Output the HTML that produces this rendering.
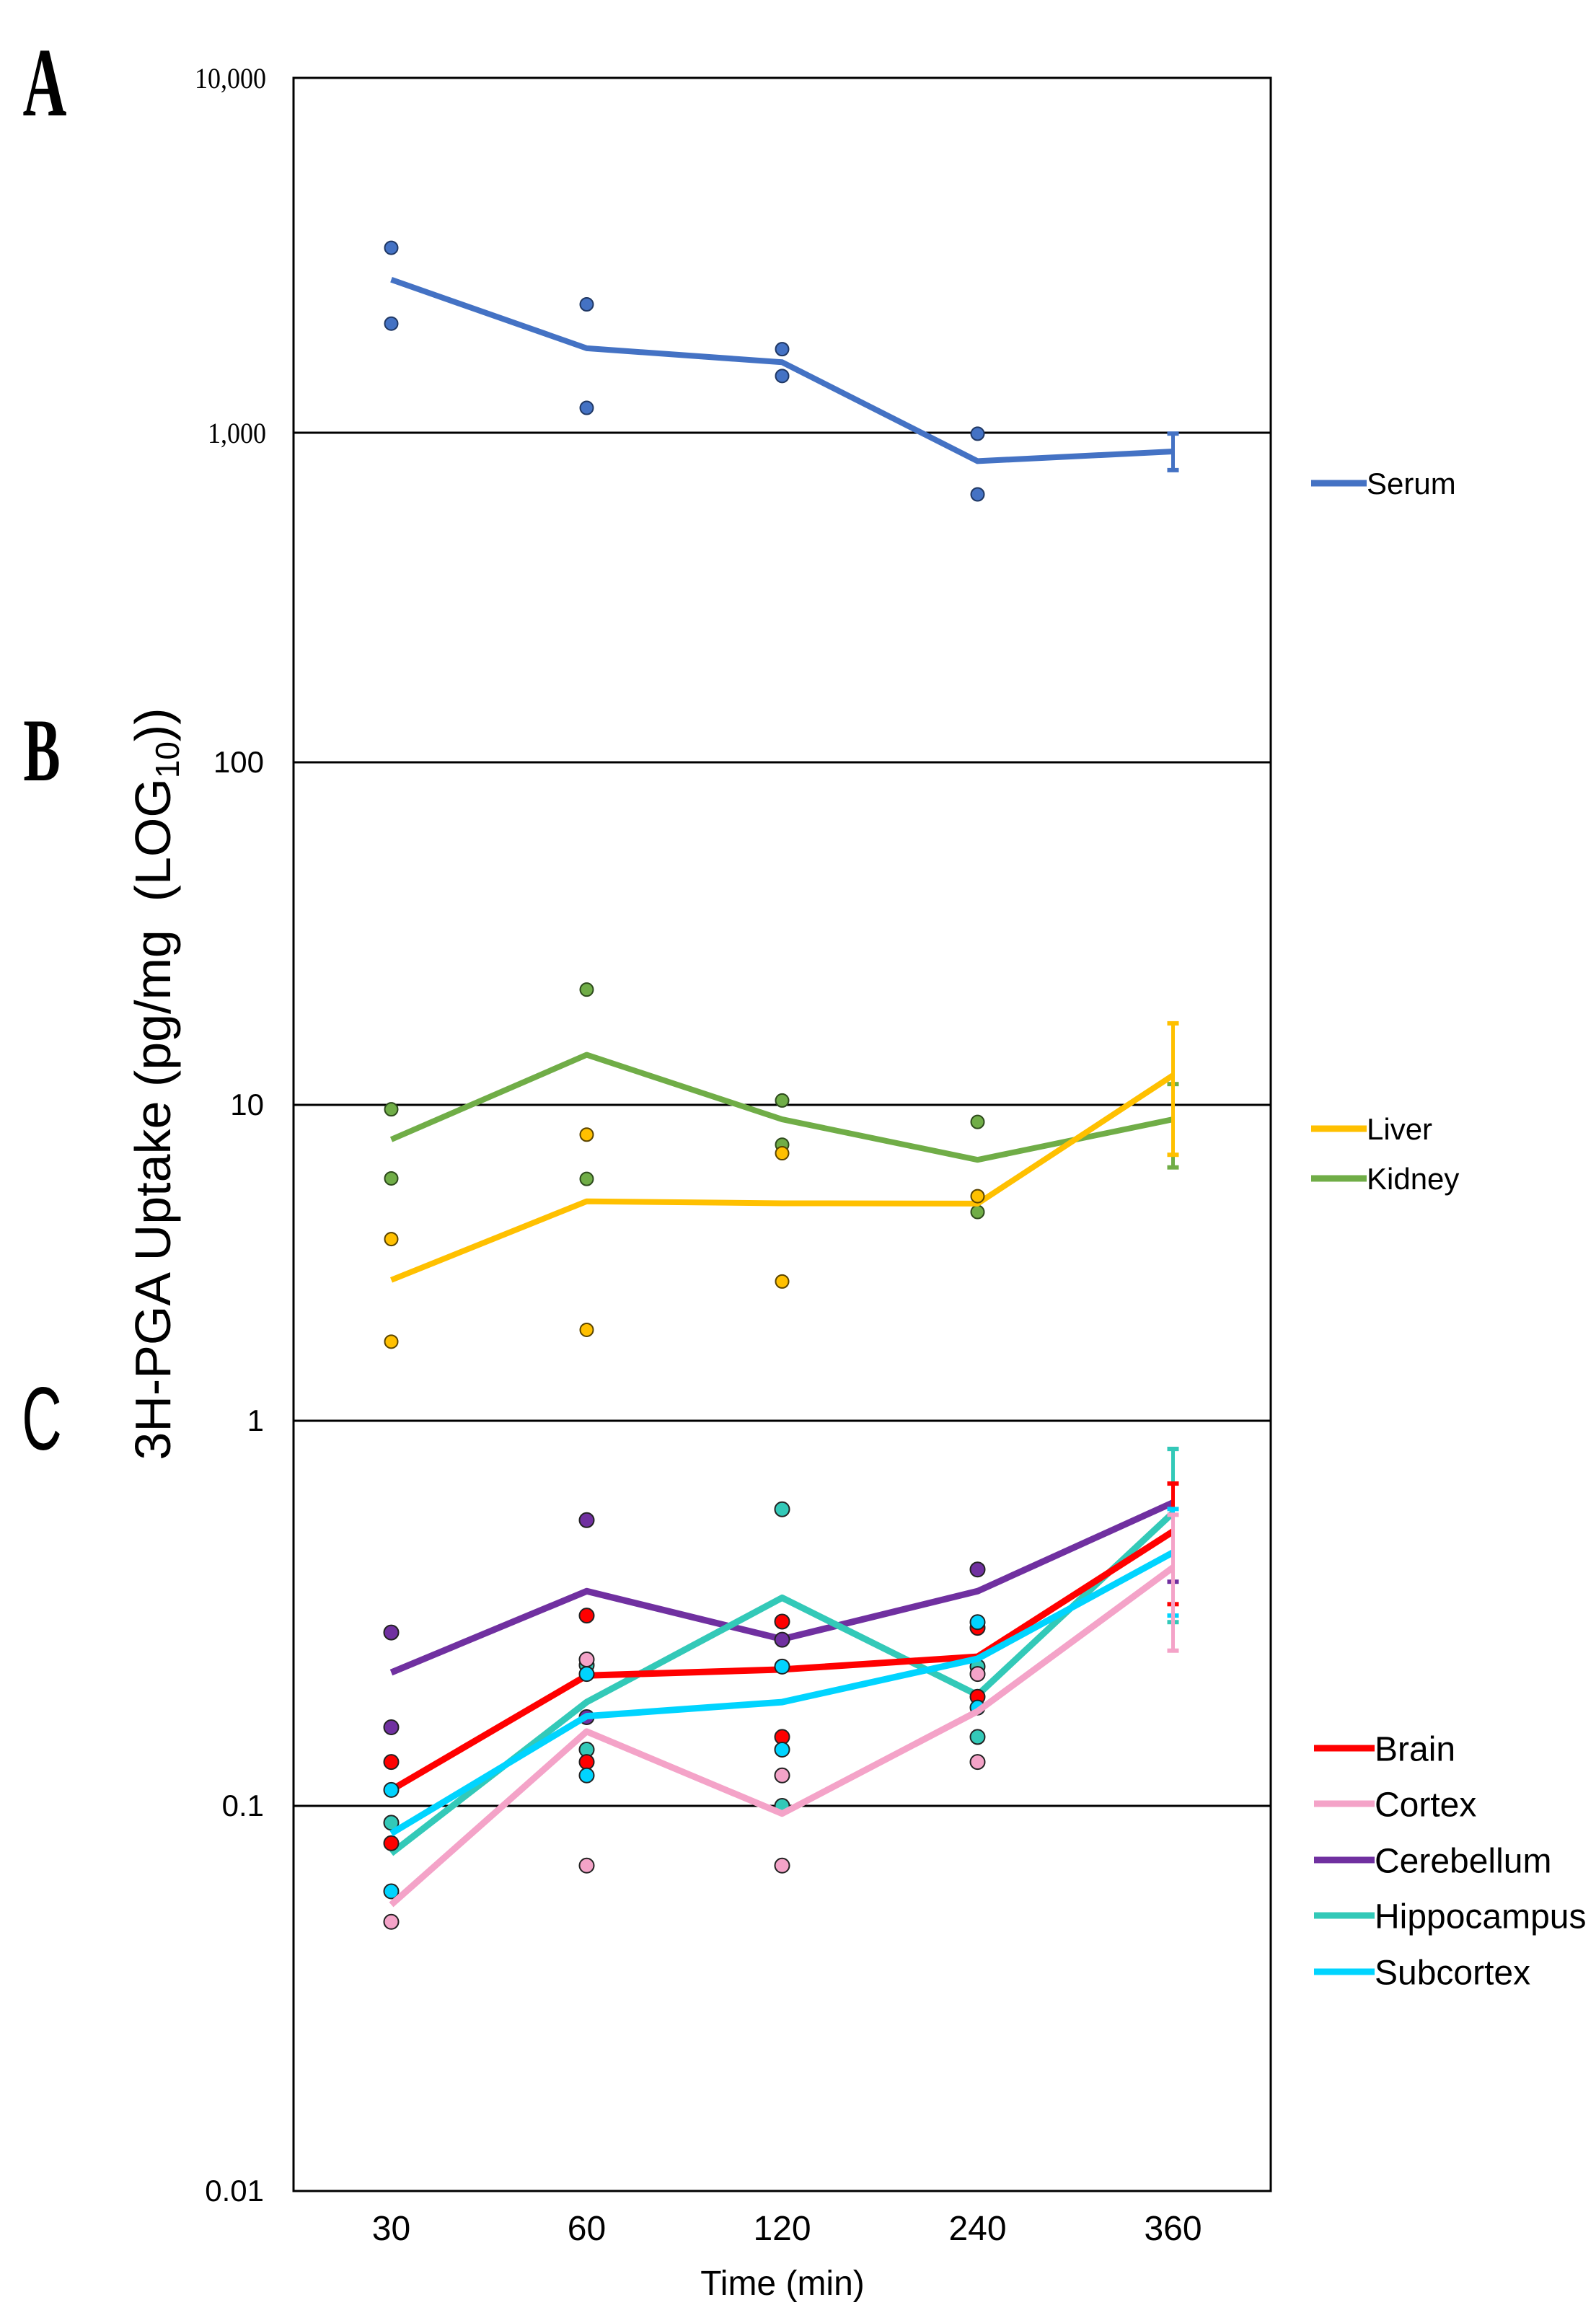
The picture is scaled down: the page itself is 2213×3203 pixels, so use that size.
<!DOCTYPE html>
<html><head><meta charset="utf-8"><style>
html,body{margin:0;padding:0;background:#fff;}
svg{display:block;}
</style></head><body>
<svg id="chart" width="2213" height="3203" viewBox="0 0 2213 3203" xmlns="http://www.w3.org/2000/svg">
<rect x="0" y="0" width="2213" height="3203" fill="#fff"/>
<g id="frame"></g>
<g id="marks"></g>
<g id="labels">
<text x="62" y="160" font-family="Liberation Serif, serif" font-weight="bold" font-size="136" text-anchor="middle" transform="translate(62 0) scale(0.62 1) translate(-62 0)">A</text>
<text x="58" y="1082" font-family="Liberation Serif, serif" font-weight="bold" font-size="124" text-anchor="middle" transform="translate(58 0) scale(0.62 1) translate(-58 0)">B</text>
<text x="58" y="2010" font-family="Liberation Sans, sans-serif" font-size="124" text-anchor="middle" transform="translate(58 0) scale(0.62 1) translate(-58 0)">C</text>
<text transform="translate(236 1503) rotate(-90)" text-anchor="middle" font-family="Liberation Sans, sans-serif" font-size="70">3H-PGA Uptake (pg/mg &#160;(LOG<tspan font-size="46" dy="12">10</tspan><tspan dy="-12">))</tspan></text>
<text x="1085" y="3182" text-anchor="middle" font-family="Liberation Sans, sans-serif" font-size="48">Time (min)</text>
</g>
<g id="legend"></g>
</svg>
<script>
const categories = ["30","60","120","240","360"];
const gridValues = [10000,1000,100,10,1,0.1,0.01];
const gridLabels = ["10,000","1,000","100","10","1","0.1","0.01"];
const serumMean = [2700,1730,1580,820,877];
const serumPts = [[3320,2030],[2300,1175],[1720,1445],[993,650]];
const serumErr = [770,994];
const liverMean = [2.79,4.95,4.88,4.87,12.2];
const liverPts = [[3.76,1.78],[8.05,1.94],[7.03,2.76],[5.14]];
const liverErr = [6.95,17.3];
const kidneyMean = [7.77,14.0,9.0,6.7,9.0];
const kidneyPts = [[9.68,5.85],[21.7,5.83],[10.3,7.48],[8.83,4.58]];
const kidneyErr = [6.34,11.5];
const brainMean = [0.110,0.218,0.226,0.244,0.516];
const brainPts = [[0.130,0.080],[0.312,0.130],[0.301,0.151],[0.290,0.192]];
const brainErr = [0.334,0.687];
const cortexMean = [0.0554,0.156,0.0955,0.176,0.416];
const cortexPts = [[0.050],[0.240,0.070],[0.120,0.070],[0.220,0.130]];
const cortexErr = [0.253,0.57];
const cerebMean = [0.222,0.361,0.271,0.361,0.613];
const cerebPts = [[0.282,0.160],[0.552,0.170],[0.270],[0.411]];
const cerebErr = [0.382,0.845];
const hippoMean = [0.0753,0.186,0.347,0.194,0.577];
const hippoPts = [[0.0904],[0.232,0.140],[0.589,0.100],[0.230,0.151]];
const hippoErr = [0.300,0.845];
const subMean = [0.0848,0.171,0.186,0.241,0.455];
const subPts = [[0.110,0.060],[0.220,0.120],[0.230,0.140],[0.300,0.180]];
const subErr = [0.312,0.59];

const NS="http://www.w3.org/2000/svg";
const gridY=[108,600,1057,1532,1970,2504,3038];
const L=407,R=1762;
function xPos(i){return L+(R-L)/categories.length*(i+0.5);}
function yPos(v){
  const lv=Math.log10(v);
  for(let k=0;k<gridValues.length-1;k++){
    const a=Math.log10(gridValues[k]),b=Math.log10(gridValues[k+1]);
    if(lv<=a&&lv>=b||k===gridValues.length-2&&lv<b||k===0&&lv>a){
      return gridY[k]+(a-lv)/(a-b)*(gridY[k+1]-gridY[k]);
    }
  }
  return gridY[gridY.length-1];
}
function mk(tag,attrs,parent){const e=document.createElementNS(NS,tag);for(const k in attrs)e.setAttribute(k,attrs[k]);parent.appendChild(e);return e;}
const frame=document.getElementById('frame');
const marks=document.getElementById('marks');
const legend=document.getElementById('legend');
const labels=document.getElementById('labels');

const border=mk('rect',{x:L,y:gridY[0],width:R-L,height:gridY[6]-gridY[0],fill:'none',stroke:'#000','stroke-width':3},frame);


gridValues.forEach((v,k)=>{
  const y=yPos(v);
  const ln=mk('line',{x1:L,x2:R,y1:y,y2:y,stroke:'#000','stroke-width':3},frame);
  
  
  const serif=k<2;
  const t=mk('text',{x:serif?369:366,y:y+14,'text-anchor':'end','font-family':serif?'Liberation Serif, serif':'Liberation Sans, sans-serif','font-size':serif?40:42},labels);
  if(serif) t.setAttribute('transform','translate(369 0) scale(0.9 1) translate(-369 0)');
  t.textContent=gridLabels[k];
  
  
});
categories.forEach((c,i)=>{
  const t=mk('text',{x:xPos(i),y:3106,'text-anchor':'middle','font-family':'Liberation Sans, sans-serif','font-size':48},labels);
  t.textContent=c;
  
  
});

function series(name,color,mean,pts,err,width,r,outline){
  const g=mk('g',{},marks);
  
  
  const last=mean.length-1;
  const ex=xPos(last);
  const eb=mk('line',{x1:ex,x2:ex,y1:yPos(err[0]),y2:yPos(err[1]),stroke:color,'stroke-width':5},g);
  
  
  err.forEach(v=>{
    const cap=mk('line',{x1:ex-8,x2:ex+8,y1:yPos(v),y2:yPos(v),stroke:color,'stroke-width':6},g);
    
    
  });
  const p=mk('polyline',{points:mean.map((v,i)=>xPos(i)+','+yPos(v)).join(' '),fill:'none',stroke:color,'stroke-width':width,'stroke-linejoin':'round'},g);
  
  
  pts.forEach((arr,i)=>arr.forEach(v=>{
    const c=mk('circle',{cx:xPos(i),cy:yPos(v),r:r,fill:color,stroke:outline,'stroke-width':2},g);
    
    
  }));
}
series('serum','#4472C4',serumMean,serumPts,serumErr,8,9,'#203864');
series('kidney','#70AD47',kidneyMean,kidneyPts,kidneyErr,8,9,'#2d4a1c');
series('liver','#FFC000',liverMean,liverPts,liverErr,8,9,'#5a4400');
series('cerebellum','#7030A0',cerebMean,cerebPts,cerebErr,9,10,'#222');
series('hippocampus','#33C9B8',hippoMean,hippoPts,hippoErr,9,10,'#222');
series('brain','#FF0000',brainMean,brainPts,brainErr,9,10,'#222');
series('subcortex','#00D4FF',subMean,subPts,subErr,9,10,'#222');
series('cortex','#F4A3C8',cortexMean,cortexPts,cortexErr,9,10,'#222');

function legendEntry(name,label,color,y,x1,x2,fs){
  const g=mk('g',{},legend);
  
  
  mk('line',{x1:x1,x2:x2,y1:y,y2:y,stroke:color,'stroke-width':9},g);
  const t=mk('text',{x:x2,y:y+fs*0.36,'font-family':'Liberation Sans, sans-serif','font-size':fs},g);
  t.textContent=label;
}
legendEntry('serum','Serum','#4472C4',670,1818,1895,42);
legendEntry('liver','Liver','#FFC000',1565,1818,1895,42);
legendEntry('kidney','Kidney','#70AD47',1634,1818,1895,42);
legendEntry('brain','Brain','#FF0000',2424,1822,1906,48);
legendEntry('cortex','Cortex','#F4A3C8',2501,1822,1906,48);
legendEntry('cerebellum','Cerebellum','#7030A0',2579,1822,1906,48);
legendEntry('hippocampus','Hippocampus','#33C9B8',2656,1822,1906,48);
legendEntry('subcortex','Subcortex','#00D4FF',2734,1822,1906,48);
</script>
</body></html>
